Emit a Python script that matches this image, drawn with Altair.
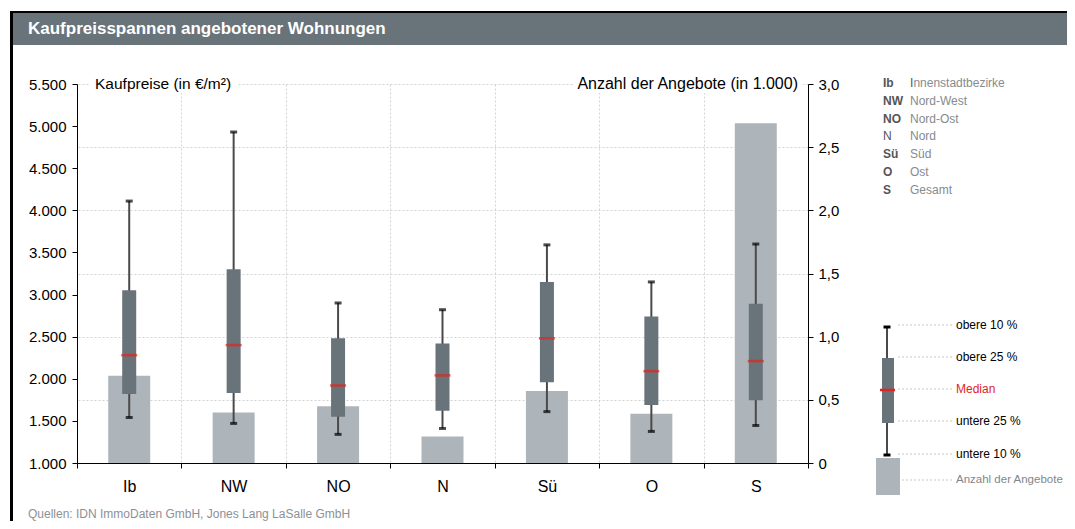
import altair as alt
import pandas as pd

# ---------------- data ----------------
categories = ["Ib", "NW", "NO", "N", "Sü", "O", "S"]
p10 = [1540, 1470, 1340, 1410, 1610, 1375, 1445]
p25 = [1820, 1830, 1550, 1620, 1960, 1690, 1745]
median = [2280, 2400, 1920, 2040, 2480, 2090, 2210]
p75 = [3050, 3300, 2480, 2420, 3150, 2740, 2890]
p90 = [4110, 4930, 2900, 2820, 3590, 3150, 3600]
angebote = [0.69, 0.40, 0.45, 0.21, 0.57, 0.39, 2.69]

region_names = ["Innenstadtbezirke", "Nord-West", "Nord-Ost", "Nord", "Süd", "Ost", "Gesamt"]
legend_labels = ["obere 10 %", "obere 25 %", "Median", "untere 25 %", "untere 10 %", "Anzahl der Angebote"]
title_text = "Kaufpreisspannen angebotener Wohnungen"
left_title = "Kaufpreise (in €/m²)"
right_title = "Anzahl der Angebote  (in 1.000)"
source_text = "Quellen: IDN ImmoDaten GmbH, Jones Lang LaSalle GmbH"
price_ticks = [1000, 1500, 2000, 2500, 3000, 3500, 4000, 4500, 5000, 5500]
count_ticks = [0, 0.5, 1.0, 1.5, 2.0, 2.5, 3.0]

df = pd.DataFrame({"cat": categories, "p10": p10, "p25": p25, "median": median,
                   "p75": p75, "p90": p90, "angebote": angebote})
leg_df = pd.DataFrame({"abbr": categories, "name": region_names, "row": list(range(len(categories)))})

FONT = "Liberation Sans, Arial"
BOX = "#69737a"
BAR = "#aeb5ba"
RED = "#e2241c"
GRID = "#d2d2d2"
one = alt.Data(values=[{"a": 1}])

# ---------------- scales / axes ----------------
x_enc = alt.X("cat:N", sort=categories, title=None,
              scale=alt.Scale(type="band", domain=categories, paddingInner=0, paddingOuter=0),
              axis=alt.Axis(orient="bottom", tickBand="extent", grid=True, gridColor=GRID,
                            gridDash=[2, 2], domainColor="black", tickColor="black", tickSize=5,
                            labelFontSize=16, labelColor="black", labelPadding=10, labelAngle=0,
                            labelFont=FONT))

price_scale = alt.Scale(domain=[1000, 5500], nice=False, zero=False)
price_axis = alt.Axis(orient="left", values=price_ticks, title=None,
                      labelExpr="replace(format(datum.value, ',d'), ',', '.')",
                      grid=False, domainColor="black", tickColor="black", tickSize=5,
                      labelPadding=6, labelFontSize=15, labelColor="black", labelFont=FONT)

count_bars = alt.Chart(df).mark_bar(width=42, color=BAR).encode(
    x=x_enc,
    y=alt.Y("angebote:Q", title=None, scale=alt.Scale(domain=[0, 3], nice=False),
            axis=alt.Axis(orient="right", values=count_ticks, title=None,
                          labelExpr="datum.value == 0 ? '0' : replace(format(datum.value, '.1f'), '.', ',')",
                          grid=True, gridColor=GRID, gridDash=[2, 2], domainColor="black",
                          tickColor="black", tickSize=5, labelPadding=5, labelFontSize=15,
                          labelColor="black", labelFont=FONT)),
)

whisker = alt.Chart(df).mark_rule(color="#4a4a4a", strokeWidth=2).encode(
    x=x_enc, y=alt.Y("p10:Q", scale=price_scale, axis=price_axis), y2="p90:Q")
box = alt.Chart(df).mark_bar(width=14, color=BOX).encode(
    x=x_enc, y=alt.Y("p25:Q", scale=price_scale, axis=price_axis), y2="p75:Q")
cap_lo = alt.Chart(df).mark_tick(color="black", size=7, thickness=3).encode(
    x=x_enc, y=alt.Y("p10:Q", scale=price_scale, axis=price_axis))
cap_hi = alt.Chart(df).mark_tick(color="black", size=7, thickness=3).encode(
    x=x_enc, y=alt.Y("p90:Q", scale=price_scale, axis=price_axis))
med = alt.Chart(df).mark_tick(color=RED, size=16, thickness=2.5).encode(
    x=x_enc, y=alt.Y("median:Q", scale=price_scale, axis=price_axis))
price = alt.layer(whisker, box, cap_lo, cap_hi, med)


# ---------------- helpers for decorations ----------------
def txt(s, x, y, size=15, color="black", align="left", weight="normal"):
    return alt.Chart(one).mark_text(text=s, align=align, baseline="middle", fontSize=size,
                                    font=FONT, color=color, fontWeight=weight).encode(
        x=alt.value(x), y=alt.value(y))


def rect(x, x2, y, y2, color):
    return alt.Chart(one).mark_rect(color=color).encode(
        x=alt.value(x), x2=alt.value(x2), y=alt.value(y), y2=alt.value(y2))


def rule(x, x2, y, y2, color, width=1, dash=None):
    kw = dict(color=color, strokeWidth=width)
    if dash:
        kw["strokeDash"] = dash
    return alt.Chart(one).mark_rule(**kw).encode(
        x=alt.value(x), x2=alt.value(x2), y=alt.value(y), y2=alt.value(y2))


decos = []
# frame and title bar
decos.append(rect(-64, 1000, -71, -39, BOX))
decos.append(rule(-66, 1000, -72, -72, "black", 2))
decos.append(rule(-65.5, -65.5, -73, 460, "black", 3))
decos.append(txt(title_text, -49, -55, size=17, color="white", weight="bold"))
# axis titles with white background
decos.append(rect(12, 160, -9, 9, "white"))
decos.append(txt(left_title, 18, 0, size=15.5))
decos.append(rect(496, 726, -9, 9, "white"))
decos.append(txt(right_title, 721, 0, size=16, align="right"))
# source
decos.append(txt(source_text, -49, 430, size=12, color="#8c9196"))

# region abbreviation list
ROW = "datum.row * 17.9 - 1.3"
abbr_bold = alt.Chart(leg_df).transform_filter("datum.abbr != 'N'").transform_calculate(
    yp=ROW).mark_text(align="left", baseline="middle", fontSize=12,
                      font=FONT, fontWeight="bold", color="#555555").encode(
    x=alt.value(806), y=alt.Y("yp:Q", scale=None, axis=None), text="abbr:N")
abbr_reg = alt.Chart(leg_df).transform_filter("datum.abbr == 'N'").transform_calculate(
    yp=ROW).mark_text(align="left", baseline="middle", fontSize=12,
                      font=FONT, color="#555555").encode(
    x=alt.value(806), y=alt.Y("yp:Q", scale=None, axis=None), text="abbr:N")
# first letter of the first name is highlighted (dark), rest grey
names = alt.Chart(leg_df).transform_calculate(
    yp=ROW,
    xp="datum.row == 0 ? 836.4 : 833",
    label="datum.row == 0 ? substring(datum.name, 1) : datum.name",
).mark_text(align="left", baseline="middle", fontSize=12, font=FONT, color="#858b90").encode(
    x=alt.X("xp:Q", scale=None, axis=None), y=alt.Y("yp:Q", scale=None, axis=None), text="label:N")
first_letter = alt.Chart(leg_df).transform_filter("datum.row == 0").transform_calculate(
    yp=ROW, first="substring(datum.name, 0, 1)").mark_text(
    align="left", baseline="middle", fontSize=12, font=FONT, color="#555555").encode(
    x=alt.value(833), y=alt.Y("yp:Q", scale=None, axis=None), text="first:N")
decos += [abbr_bold, abbr_reg, names, first_letter]

# box legend
decos.append(rule(810, 810, 243, 371, "#4a4a4a", 2))
decos.append(rect(805, 817, 274, 339, BOX))
decos.append(rule(803, 818, 306, 306, RED, 2.5))
decos.append(rect(806.5, 813.5, 241.5, 244.5, "black"))
decos.append(rect(806.5, 813.5, 369.5, 372.5, "black"))
decos.append(rect(799, 823, 374, 411, BAR))
leg_y = [241, 273, 305, 337, 370, 396]
for i, lab in enumerate(legend_labels):
    x0 = 825 if i == 5 else 821
    decos.append(rule(x0, 876, leg_y[i], leg_y[i], "#c8c8c8", 1, [2, 2]))
    col = RED if lab == "Median" else ("#7f878c" if i == 5 else "black")
    decos.append(txt(lab, 879, leg_y[i], size=11.5 if i == 5 else 12, color=col))

chart = alt.layer(count_bars, price, *decos).resolve_scale(y="independent").properties(
    width=731, height=379,
    autosize=alt.AutoSizeParams(type="none"),
    padding={"left": 69, "top": 76, "right": 259, "bottom": 58},
).configure(font=FONT, view=alt.ViewConfig(stroke="transparent"))

chart.save("out.html", embed_options={"renderer": "svg", "actions": False})
